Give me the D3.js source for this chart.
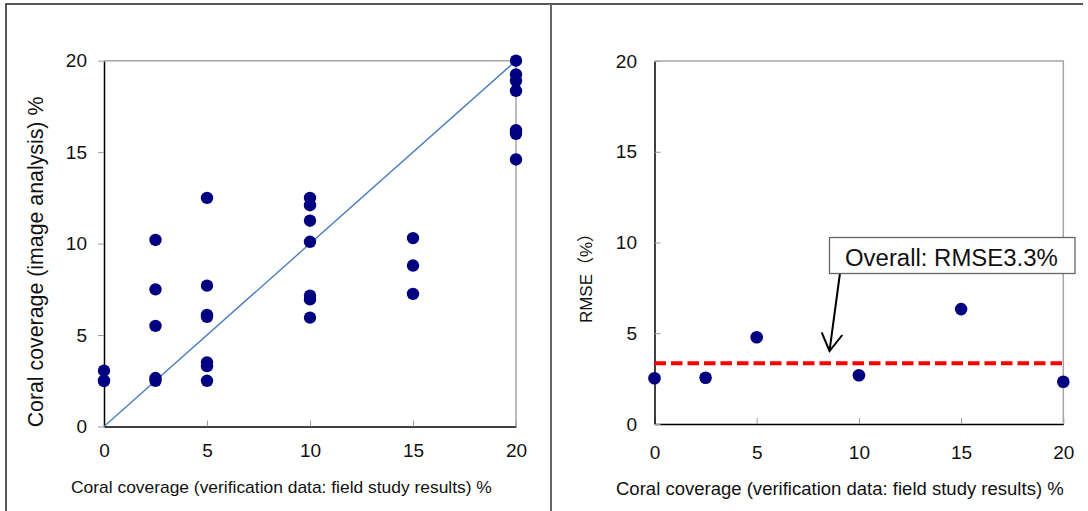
<!DOCTYPE html>
<html>
<head>
<meta charset="utf-8">
<script src="https://cdn.jsdelivr.net/npm/d3@7"></script>
<style>
  html, body { margin: 0; padding: 0; background: #fff; }
  svg { display: block; font-family: "Liberation Sans", Arial, "Noto Sans CJK JP", sans-serif; }
</style>
</head>
<body>
<div id="chart"></div>
<script>
// left panel: field study vs image analysis
var fieldValues = [0, 0, 0,
  2.5, 2.5, 2.5, 2.5, 2.5,
  5, 5, 5, 5, 5, 5, 5,
  10, 10, 10, 10, 10, 10, 10,
  15, 15, 15,
  20, 20, 20, 20, 20, 20, 20];
var imageValues = [3.05, 2.5, 2.5,
  10.2, 7.5, 5.5, 2.65, 2.5,
  12.5, 7.7, 6.1, 6.0, 3.5, 3.3, 2.5,
  12.5, 12.1, 11.25, 10.1, 7.15, 6.95, 5.95,
  10.3, 8.8, 7.25,
  20, 19.25, 18.9, 18.35, 16.2, 16.0, 14.6];

// right panel: RMSE per class
var rmseClasses = [0, 2.5, 5, 10, 15, 20];
var rmseValues = [2.52, 2.55, 4.78, 2.69, 6.33, 2.33];
var overallRmse = 3.35;

var tickValues = [0, 5, 10, 15, 20];
var xTitle = "Coral coverage (verification data: field study results) %";
var yTitleLeft = "Coral coverage (image analysis) %";
var yTitleRight = "RMSE\uFF08%\uFF09";
var noteText = "Overall: RMSE3.3%";

var width = 1088, height = 511;
var dotColor = "#000080";

var svg = d3.select("#chart").append("svg")
  .attr("width", width)
  .attr("height", height);

// outer frame + divider
svg.append("path")
  .attr("d", "M6,511V4H1083")
  .attr("fill", "none")
  .attr("stroke", "#222")
  .attr("stroke-width", 1.5);
svg.append("line")
  .attr("x1", 551).attr("x2", 551).attr("y1", 4).attr("y2", 511)
  .attr("stroke", "#666")
  .attr("stroke-width", 2);

// scale a text so its length matches a target width
function fitText(sel, target, size) {
  sel.attr("font-size", size);
  var w = sel.node().getComputedTextLength();
  sel.attr("font-size", size * target / w);
}

function drawFrame(g, x, y, opts) {
  var x0 = x.range()[0], x1 = x.range()[1];
  var y0 = y.range()[0], y1 = y.range()[1];

  var xAxis = d3.axisBottom(x).tickValues(tickValues)
    .tickSize(-6).tickSizeOuter(0).tickPadding(opts.xPad);
  var yAxis = d3.axisLeft(y).tickValues(tickValues)
    .tickSize(opts.yTick).tickSizeOuter(0).tickPadding(opts.yPad);

  var gx = g.append("g").attr("transform", "translate(0," + y0 + ")").call(xAxis);
  var gy = g.append("g").attr("transform", "translate(" + x0 + ",0)").call(yAxis);

  [gx, gy].forEach(function(a) {
    a.select(".domain").attr("stroke", "#000").attr("stroke-width", 1.5);
    a.selectAll(".tick line").attr("stroke", "#999");
    a.selectAll(".tick text")
      .attr("fill", "#111")
      .attr("font-size", 19)
      .attr("font-family", "Liberation Sans, Arial, sans-serif");
  });

  // top and right borders
  g.append("path")
    .attr("d", "M" + x0 + "," + y1 + "H" + x1 + "V" + y0)
    .attr("fill", "none")
    .attr("stroke", "#a6a6a6")
    .attr("stroke-width", 1.5);
}

// ---------- left panel ----------
var xL = d3.scaleLinear().domain([0, 20]).range([104, 516]);
var yL = d3.scaleLinear().domain([0, 20]).range([426.5, 60.7]);
var left = svg.append("g");
drawFrame(left, xL, yL, { xPad: 17, yTick: 6, yPad: 11 });

left.append("line")
  .attr("x1", xL(0)).attr("y1", yL(0))
  .attr("x2", xL(20)).attr("y2", yL(20))
  .attr("stroke", "#4a7ebb")
  .attr("stroke-width", 1.4);

left.selectAll("circle")
  .data(fieldValues.map(function(f, i) { return { f: f, v: imageValues[i] }; }))
  .enter()
  .append("circle")
  .attr("cx", function(d) { return xL(d.f); })
  .attr("cy", function(d) { return yL(d.v); })
  .attr("r", 6.2)
  .attr("fill", dotColor);

var lx = left.append("text")
  .attr("x", 71).attr("y", 493)
  .attr("fill", "#111")
  .text(xTitle);
fitText(lx, 421, 17);

var ly = left.append("text")
  .attr("transform", "translate(43,262) rotate(-90)")
  .attr("text-anchor", "middle")
  .attr("fill", "#111")
  .text(yTitleLeft);
fitText(ly, 331, 20);

// ---------- right panel ----------
var xR = d3.scaleLinear().domain([0, 20]).range([654.5, 1063.3]);
var yR = d3.scaleLinear().domain([0, 20]).range([424, 61]);
var right = svg.append("g");
drawFrame(right, xR, yR, { xPad: 21.5, yTick: -6, yPad: 17.5 });

right.append("line")
  .attr("x1", xR(0)).attr("x2", xR(20))
  .attr("y1", yR(overallRmse)).attr("y2", yR(overallRmse))
  .attr("stroke", "#ff0000")
  .attr("stroke-width", 4)
  .attr("stroke-dasharray", "11.5,5");

right.selectAll("circle")
  .data(rmseClasses.map(function(c, i) { return { c: c, v: rmseValues[i] }; }))
  .enter()
  .append("circle")
  .attr("cx", function(d) { return xR(d.c); })
  .attr("cy", function(d) { return yR(d.v); })
  .attr("r", 6.3)
  .attr("fill", dotColor);

var rx = right.append("text")
  .attr("x", 616).attr("y", 495)
  .attr("fill", "#111")
  .text(xTitle);
fitText(rx, 448, 17);

right.append("text")
  .attr("transform", "translate(592,274) rotate(-90)")
  .attr("text-anchor", "middle")
  .attr("fill", "#111")
  .attr("font-size", 17)
  .text(yTitleRight);

// annotation arrow + box
right.append("path")
  .attr("d", "M840,273L829.5,351M821.7,332.3L829.5,351L842.3,335")
  .attr("fill", "none")
  .attr("stroke", "#000")
  .attr("stroke-width", 2);

right.append("rect")
  .attr("x", 829.5).attr("y", 237.5)
  .attr("width", 245.5).attr("height", 36)
  .attr("fill", "#fff")
  .attr("stroke", "#666")
  .attr("stroke-width", 1.3);

var note = right.append("text")
  .attr("x", 845).attr("y", 265.5)
  .attr("fill", "#111")
  .text(noteText);
fitText(note, 213, 22);
</script>
</body>
</html>
